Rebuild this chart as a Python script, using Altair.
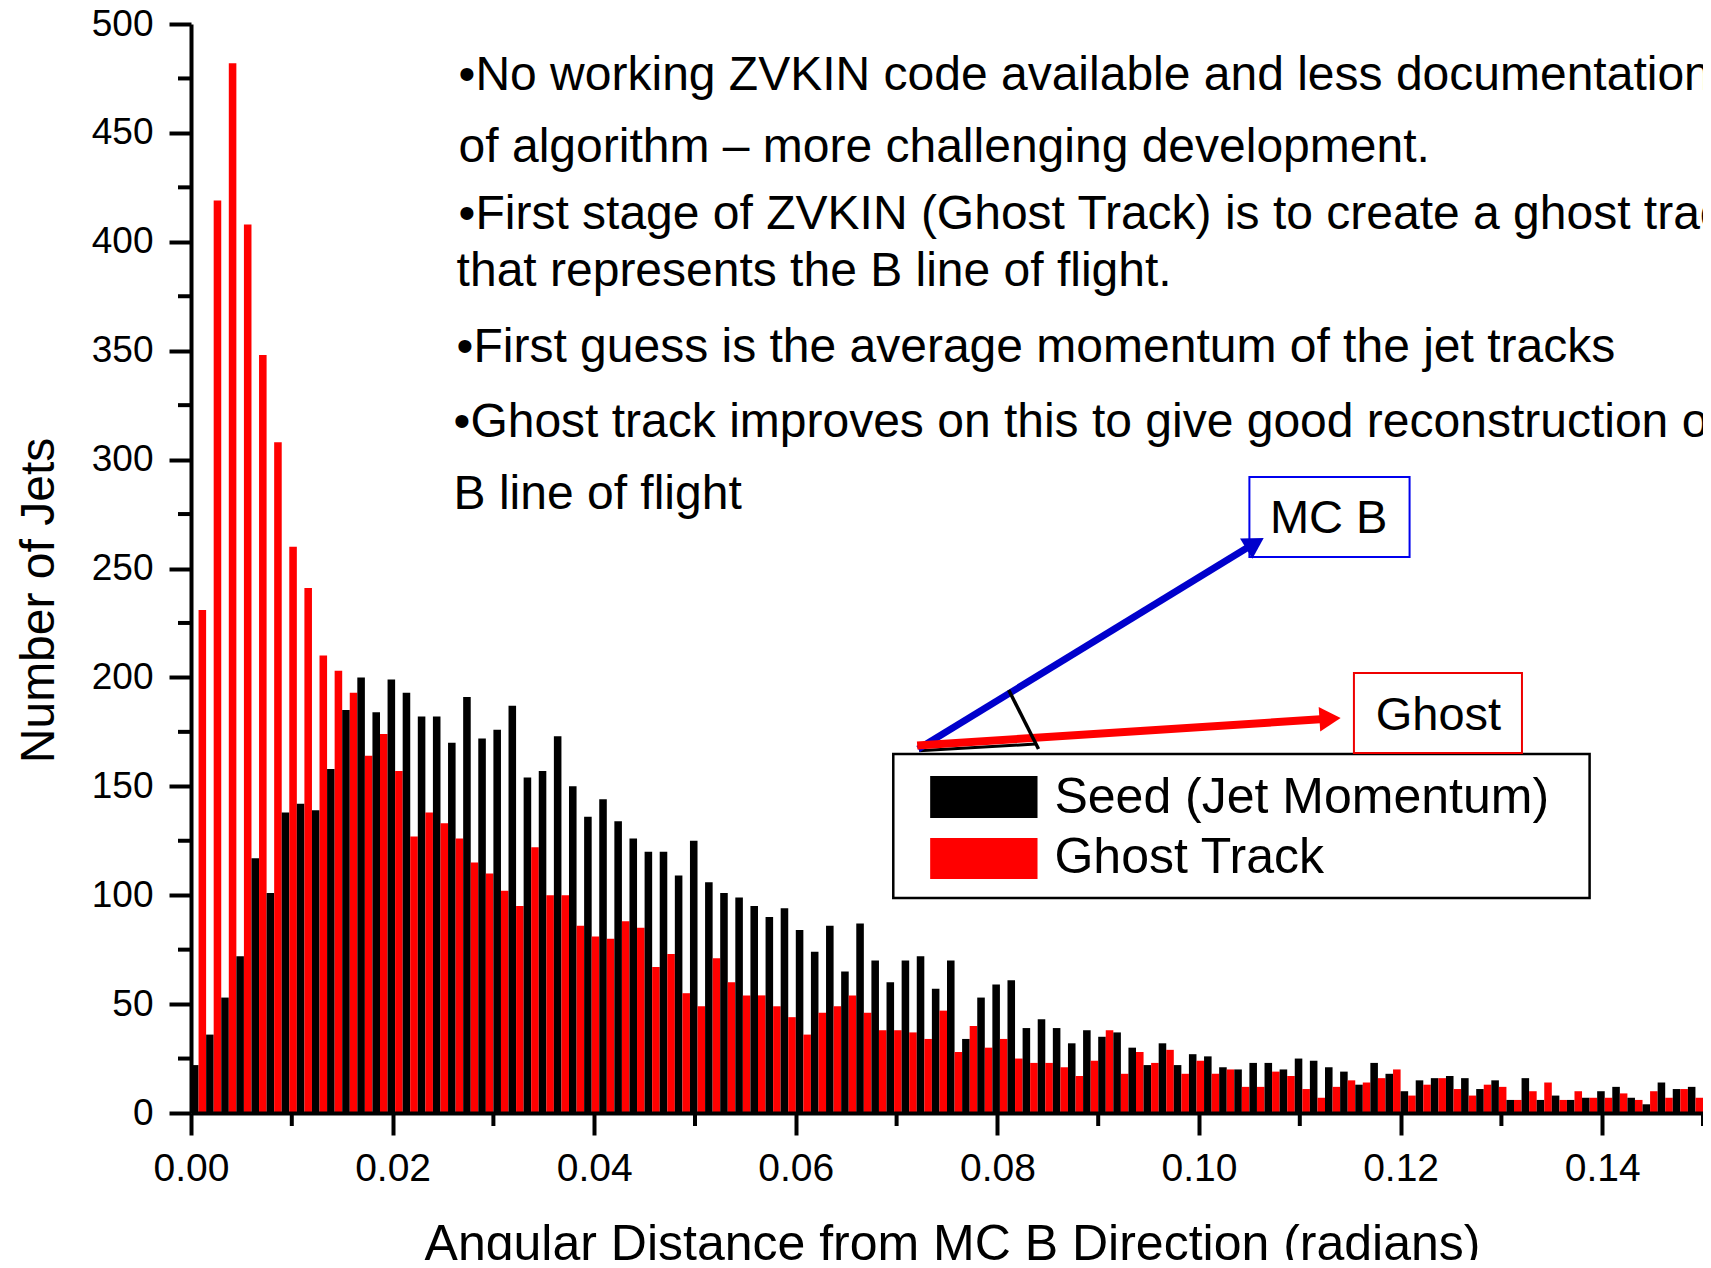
import altair as alt
import pandas as pd

# ---------------- data ----------------
BIN_WIDTH = 0.0015  # radians per histogram bin (100 bins, 0 - 0.15)

SEED_COUNTS = [
    22, 36, 53, 72, 117, 101, 138, 142, 139, 158,
    185, 200, 184, 199, 193, 182, 182, 170, 191, 172,
    176, 187, 154, 157, 173, 150, 136, 144, 134, 126,
    120, 120, 109, 125, 106, 101, 99, 95, 90, 94,
    84, 74, 86, 65, 87, 70, 60, 70, 72, 57,
    70, 34, 53, 59, 61, 39, 43, 39, 32, 38,
    35, 37, 30, 22, 32, 22, 27, 26, 21, 20,
    23, 23, 20, 25, 24, 21, 19, 13, 23, 18,
    10, 15, 16, 17, 16, 11, 15, 6, 16, 6,
    8, 6, 7, 10, 12, 7, 4, 14, 11, 12,
]

GHOST_COUNTS = [
    231, 419, 482, 408, 348, 308, 260, 241, 210, 203,
    193, 164, 174, 157, 127, 138, 133, 126, 115, 110,
    102, 95, 122, 100, 100, 86, 81, 80, 88, 85,
    67, 73, 55, 49, 71, 60, 54, 54, 49, 44,
    36, 46, 49, 54, 46, 38, 38, 37, 34, 47,
    28, 40, 30, 34, 25, 23, 23, 21, 17, 24,
    38, 18, 28, 23, 29, 18, 24, 18, 20, 12,
    12, 19, 17, 11, 7, 12, 15, 14, 16, 20,
    8, 13, 16, 11, 8, 13, 12, 6, 10, 14,
    6, 10, 7, 7, 9, 6, 10, 7, 11, 7,
]

SERIES_NAMES = ["Seed (Jet Momentum)", "Ghost Track"]
SERIES_COLORS = ["#000000", "#FF0000"]

X_TICKS = [0.00, 0.02, 0.04, 0.06, 0.08, 0.10, 0.12, 0.14]
X_MINOR = [0.01, 0.03, 0.05, 0.07, 0.09, 0.11, 0.13, 0.15]
Y_TICKS = [0, 50, 100, 150, 200, 250, 300, 350, 400, 450, 500]
Y_MINOR = [25, 75, 125, 175, 225, 275, 325, 375, 425, 475]

TEXT_LINES = [
    "\u2022No working ZVKIN code available and less documentation",
    "of algorithm \u2013 more challenging development.",
    "\u2022First stage of ZVKIN (Ghost Track) is to create a ghost track",
    "that represents the B line of flight.",
    "\u2022First guess is the average momentum of the jet tracks",
    "\u2022Ghost track improves on this to give good reconstruction of",
    "B line of flight",
]

# ---------------- layout / annotation positions (data units) ----------------
W, H = 1512, 1089
FONT = "Arial"

TEXT_X = [0.02655, 0.02655, 0.02655, 0.02635, 0.02635, 0.02605, 0.02605]
TEXT_Y = [469.6, 436.8, 405.9, 379.6, 344.8, 310.6, 277.5]

xs = alt.Scale(domain=[0, 0.15], nice=False, zero=False)
ys = alt.Scale(domain=[0, 500], nice=False)

x_axis = alt.Axis(
    values=X_TICKS, format=".2f", title="Angular Distance from MC B Direction (radians)",
    grid=False, domainColor="black", domainWidth=4, tickColor="black", tickWidth=4,
    tickSize=22, labelFont=FONT, labelFontSize=39, labelColor="black", labelPadding=14,
    labelFlush=False, labelOverlap=False, titleFont=FONT, titleFontSize=50,
    titleFontWeight="normal", titleColor="black", titleX=W / 2 + 5, titleY=146,
    titleAlign="center", titleBaseline="alphabetic", zindex=1,
)
y_axis = alt.Axis(
    values=Y_TICKS, format="d", title="Number of Jets",
    grid=False, domainColor="black", domainWidth=4, tickColor="black", tickWidth=4,
    tickSize=22, labelFont=FONT, labelFontSize=37, labelColor="black", labelPadding=16,
    labelFlush=False, labelOverlap=False, titleFont=FONT, titleFontSize=48,
    titleFontWeight="normal", titleColor="black", titleAngle=270, titleX=-138,
    titleY=576, titleAlign="center", titleBaseline="alphabetic", zindex=1,
)


def X(field):
    return alt.X(field, type="quantitative", scale=xs, axis=x_axis)


def Y(field):
    return alt.Y(field, type="quantitative", scale=ys, axis=y_axis)


# ---------------- histogram bars ----------------
rows = []
for i, (s, g) in enumerate(zip(SEED_COUNTS, GHOST_COUNTS)):
    start = i * BIN_WIDTH
    rows.append({"series": SERIES_NAMES[0], "x0": start, "x1": start + BIN_WIDTH / 2, "count": s})
    rows.append({"series": SERIES_NAMES[1], "x0": start + BIN_WIDTH / 2, "x1": start + BIN_WIDTH, "count": g})
bars_df = pd.DataFrame(rows)

bars = alt.Chart(bars_df).mark_rect().encode(
    x=X("x0"), x2="x1",
    y=Y("count"), y2=alt.datum(0),
    color=alt.Color("series:N", scale=alt.Scale(domain=SERIES_NAMES, range=SERIES_COLORS), legend=None),
)

# minor ticks
x_minor = alt.Chart(pd.DataFrame({"v": X_MINOR})).mark_rule(color="black", strokeWidth=4).encode(
    x=X("v"), y=alt.value(H), y2=alt.value(H + 13)
)
y_minor = alt.Chart(pd.DataFrame({"v": Y_MINOR})).mark_rule(color="black", strokeWidth=4).encode(
    y=Y("v"), x=alt.value(-13), x2=alt.value(0)
)

# ---------------- text block ----------------
text_df = pd.DataFrame({"x": TEXT_X, "y": TEXT_Y, "t": TEXT_LINES})
text_block = alt.Chart(text_df).mark_text(
    align="left", baseline="alphabetic", font=FONT, fontSize=48, color="black"
).encode(x=X("x"), y=Y("y"), text="t:N")

# ---------------- boxes ----------------
def box(x0, x1, y0, y1, stroke, fill="white", sw=2):
    return alt.Chart(pd.DataFrame({"a": [x0], "b": [x1], "c": [y0], "d": [y1]})).mark_rect(
        fill=fill, stroke=stroke, strokeWidth=sw
    ).encode(x=X("a"), x2="b", y=Y("c"), y2="d")


legend_box = box(0.06967, 0.13875, 98.7, 164.8, "black", sw=2.5)
swatch_seed = box(0.07333, 0.08398, 135.4, 154.7, SERIES_COLORS[0], fill=SERIES_COLORS[0], sw=0)
swatch_ghost = box(0.07333, 0.08398, 107.4, 126.3, SERIES_COLORS[1], fill=SERIES_COLORS[1], sw=0)
mcb_box = box(0.10500, 0.12089, 255.3, 292.0, "#0000EE")
ghost_box = box(0.11537, 0.13204, 165.3, 202.0, "#EE0000")

legend_text = alt.Chart(pd.DataFrame({
    "x": [0.08566, 0.08566], "y": [137.9, 110.1], "t": SERIES_NAMES
})).mark_text(align="left", baseline="alphabetic", font=FONT, fontSize=50, color="black").encode(
    x=X("x"), y=Y("y"), text="t:N"
)

label_text = alt.Chart(pd.DataFrame({
    "x": [0.11286, 0.12375], "y": [266.3, 175.8], "t": ["MC B", "Ghost"]
})).mark_text(align="center", baseline="alphabetic", font=FONT, fontSize=47, color="black").encode(
    x=X("x"), y=Y("y"), text="t:N"
)

# ---------------- arrows ----------------
def seg(x0, y0, x1, y1, color, sw):
    return alt.Chart(pd.DataFrame({"a": [x0], "b": [x1], "c": [y0], "d": [y1]})).mark_rule(
        color=color, strokeWidth=sw, strokeCap="butt"
    ).encode(x=X("a"), x2="b", y=Y("c"), y2="d")


def head(x, y, color, angle, size):
    return alt.Chart(pd.DataFrame({"a": [x], "c": [y]})).mark_point(
        shape="triangle-right", filled=True, color=color, opacity=1, size=size, angle=angle,
        strokeWidth=0
    ).encode(x=X("a"), y=Y("c"))


seed_under = seg(0.07224, 166.3, 0.08379, 169.4, "black", 3)
blue_line = seg(0.07214, 167.1, 0.10503, 260.2, "#0000CC", 7)
blue_head = head(0.10555, 261.6, "#0000CC", 328.7, 560)
red_line = seg(0.07204, 168.7, 0.11240, 180.9, "#FF0000", 8)
red_head = head(0.11300, 181.1, "#FF0000", 356.3, 600)
angle_mark = seg(0.08112, 194.2, 0.08408, 167.1, "black", 3.5)

chart = alt.layer(
    bars, x_minor, y_minor, text_block,
    legend_box, swatch_seed, swatch_ghost, legend_text,
    mcb_box, ghost_box, label_text,
    seed_under, blue_line, blue_head, red_line, red_head, angle_mark,
).properties(
    width=W, height=H,
    autosize=alt.AutoSizeParams(type="none"),
    padding={"left": 183, "top": 16, "right": 0, "bottom": 147},
    background="white",
).configure_view(stroke=None)

chart.save("out.html", embed_options={"renderer": "svg", "actions": False})
